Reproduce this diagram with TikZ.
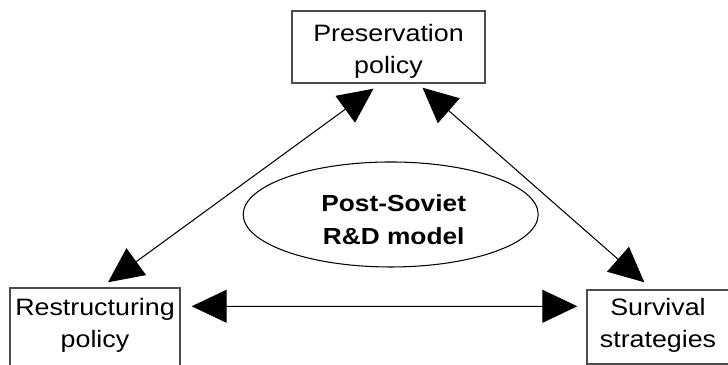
\documentclass[tikz,border=0pt]{standalone}
\usepackage{fontspec}
\setmainfont[FakeStretch=1.13]{Liberation Sans}
\usepackage{tikz}
\usetikzlibrary{arrows.meta,shapes.geometric}

\begin{document}
\begin{tikzpicture}[
    >={Triangle[length=3.5mm,width=3.3mm]},
    box/.style={draw=black!70,line width=0.4pt,inner sep=0pt,align=center,
      font=\fontsize{6.75pt}{9.1pt}\selectfont},
    model/.style={draw,ellipse,line width=0.3pt,inner sep=0pt,align=center,
      minimum width=2.95cm,minimum height=1.05cm,
      font=\fontsize{6.62pt}{9.27pt}\selectfont\bfseries},
    link/.style={<->,line width=0.3pt}
  ]
  \useasboundingbox (0,0) rectangle (7.28,3.65);
  \node[box,minimum width=1.93cm,minimum height=0.72cm] (pres) at (3.885,3.18)
    {\rule{0pt}{0.25cm}Preservation\\policy};
  \node[box,minimum width=1.70cm,minimum height=0.92cm] (restr) at (0.95,0.31)
    {Restructuring\\policy\rule[-0.23cm]{0pt}{0pt}};
  \node[box,minimum width=1.42cm,minimum height=0.74cm] (surv) at (6.58,0.38)
    {Survival\\strategies\rule[-0.09cm]{0pt}{0pt}};
  \node[model] (model) at (3.907,1.505)
    {\rule{0pt}{0.27cm}\hspace*{0.06cm}Post-Soviet\\\hspace*{0.06cm}R\&D model};
  \draw[link] ([xshift=-1.5mm,yshift=-0.5mm]pres.south) -- ([xshift=1.3mm,yshift=0.5mm]restr.north);
  \draw[link] ([xshift=3.4mm,yshift=-0.4mm]pres.south) -- ([xshift=5.8mm,yshift=0.7mm]surv.north west);
  \draw[link] ([xshift=1.1mm,yshift=-1.9mm]restr.north east) -- ([xshift=-0.9mm,yshift=-1.7mm]surv.north west);
\end{tikzpicture}
\end{document}
